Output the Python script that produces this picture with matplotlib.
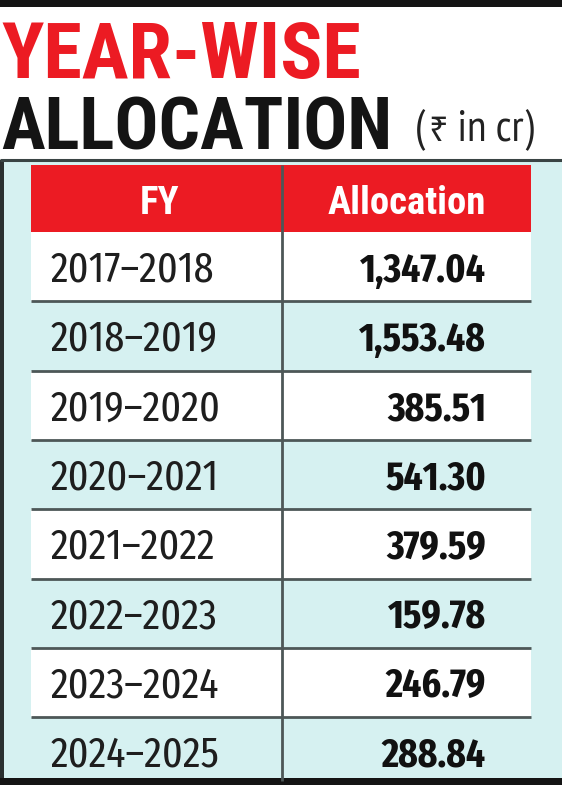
import matplotlib
matplotlib.use("Agg")
import matplotlib.pyplot as plt
from matplotlib.patches import Rectangle

# ---- data ----
title_line1 = "YEAR-WISE"
title_line2 = "ALLOCATION"
unit_parts = ["(", "₹", " in cr)"]
col_headers = ["FY", "Allocation"]
fiscal_years = ["2017–2018", "2018–2019", "2019–2020", "2020–2021",
                "2021–2022", "2022–2023", "2023–2024", "2024–2025"]
allocations = [1347.04, 1553.48, 385.51, 541.30, 379.59, 159.78, 246.79, 288.84]

# ---- style ----
RED = "#ec1b23"
CYAN = "#d6f1f1"
DARK = "#141414"
LINE = "#4d5757"
TITLE_FONT = ["Roboto Condensed", "DejaVu Sans"]
BODY_FONT = ["Fira Sans Extra Condensed", "PT Sans Narrow", "DejaVu Sans"]
UNIT_FONT = ["PT Sans Narrow", "DejaVu Sans"]
RUPEE_FONT = ["Noto Sans", "DejaVu Sans"]

W, H = 562, 800
fig = plt.figure(figsize=(W / 100, H / 100), dpi=100)
ax = fig.add_axes([0, 0, 1, 1])
ax.set_xlim(0, W)
ax.set_ylim(H, 0)
ax.axis("off")
renderer = fig.canvas.get_renderer()


def width_px(t):
    return t.get_window_extent(renderer).width


def fit_width(t, target_px):
    t.set_fontsize(t.get_fontsize() * target_px / width_px(t))
    return t


# top black bar
ax.add_patch(Rectangle((0, 0), W, 7, color=DARK, lw=0))

# titles
t1 = ax.text(1, 78, title_line1, color=RED, fontsize=52, fontweight="bold",
             family=TITLE_FONT, va="baseline", ha="left")
fit_width(t1, 360)
t2 = ax.text(1, 150, title_line2, color=DARK, fontsize=52, fontweight="bold",
             family=TITLE_FONT, va="baseline", ha="left")
fit_width(t2, 391)

# unit label "(₹ in cr)" - built from parts, then scaled to its width
scale_probe = []
x = 0
for part in unit_parts:
    fam = RUPEE_FONT if part == "₹" else UNIT_FONT
    fs = 17 if part == "₹" else 22
    tp = ax.text(x, 0, part, fontsize=fs, family=fam)
    scale_probe.append(tp)
    x += width_px(tp) + (2 if part == "(" else 0)
k = 119 / x
for tp in scale_probe:
    tp.remove()
x = 415
for part in unit_parts:
    fam = RUPEE_FONT if part == "₹" else UNIT_FONT
    fs = (17 if part == "₹" else 22) * k
    tp = ax.text(x, 141, part, color="#222222", fontsize=fs, family=fam,
                 va="baseline", ha="left")
    x += width_px(tp) + (2 * k if part == "(" else 0)

# table box
box_top, box_bottom = 160, 781
ax.add_patch(Rectangle((0, box_top), W, box_bottom - box_top, color=CYAN, lw=0))
ax.plot([0, W], [box_top, box_top], color="#3a4444", lw=2.2, solid_capstyle="butt")
ax.add_patch(Rectangle((0, box_top), 4, box_bottom - box_top + 4, color="#2a3030", lw=0))

left, right, mid = 31, 531, 282
head_top, head_bot = 165, 232
row_h = 69.3

ax.add_patch(Rectangle((left, head_top), right - left, head_bot - head_top, color=RED, lw=0))
h_base = (head_top + head_bot) / 2 + 15
th0 = ax.text((left + mid) / 2 + 3, h_base, col_headers[0], color="white",
              fontsize=29, fontweight="bold", family=TITLE_FONT, ha="center", va="baseline")
th = ax.text((mid + right) / 2, h_base, col_headers[1], color="white",
             fontsize=29, fontweight="bold", family=TITLE_FONT, ha="center", va="baseline")
fit_width(th, 158)
th0.set_fontsize(th.get_fontsize())

# body font sizes from target widths
probe = ax.text(0, 0, fiscal_years[0], fontsize=30, family=BODY_FONT)
fit_width(probe, 163)
year_fs = probe.get_fontsize()
probe.remove()
probe = ax.text(0, 0, f"{allocations[0]:,.2f}", fontsize=30, fontweight="bold", family=BODY_FONT)
fit_width(probe, 126)
val_fs = probe.get_fontsize()
probe.remove()

for i, (fy, val) in enumerate(zip(fiscal_years, allocations)):
    y0 = head_bot + i * row_h
    y1 = min(y0 + row_h, box_bottom)
    if i % 2 == 0:
        ax.add_patch(Rectangle((left, y0), right - left, y1 - y0, color="white", lw=0))
    if i > 0:
        ax.plot([left, right], [y0, y0], color=LINE, lw=2, solid_capstyle="butt")
    cy = y0 + row_h / 2
    ax.text(51, cy + 15, fy, color="#1e1e1e", fontsize=year_fs, family=BODY_FONT,
            ha="left", va="baseline")
    ax.text(486, cy + 15, f"{val:,.2f}", color="#111111", fontsize=val_fs,
            fontweight="bold", family=BODY_FONT, ha="right", va="baseline")

# column divider
ax.plot([mid, mid], [head_top, box_bottom], color=LINE, lw=2, solid_capstyle="butt")

# bottom thick border
ax.add_patch(Rectangle((0, box_bottom - 3), W, 7, color=DARK, lw=0))

fig.savefig("out.png", dpi=100, facecolor="white")
